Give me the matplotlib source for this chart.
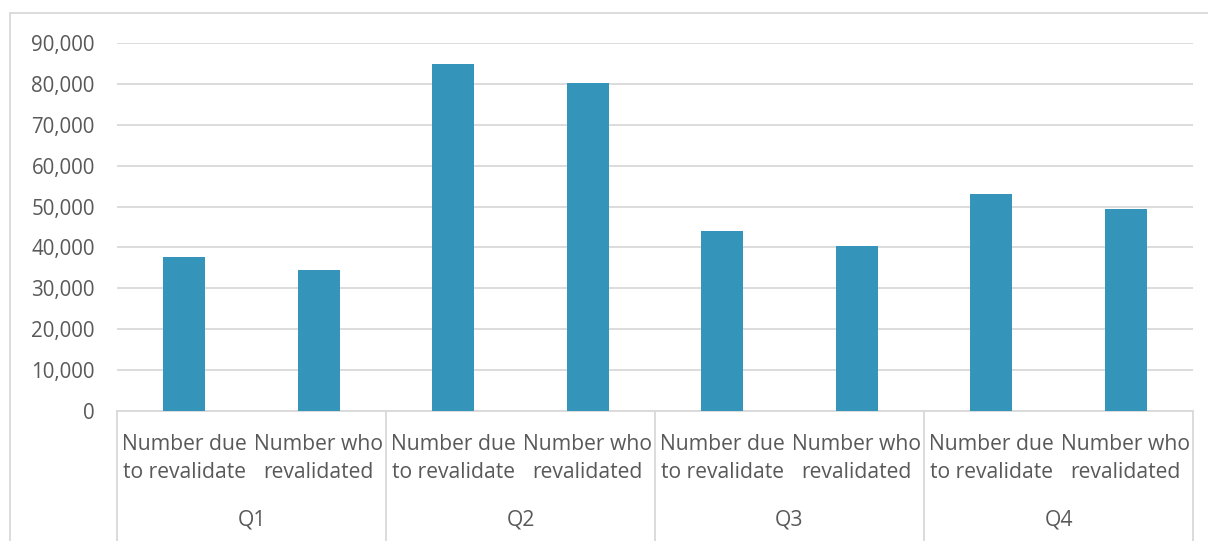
import matplotlib
matplotlib.use("Agg")
import matplotlib.pyplot as plt
from matplotlib.patches import Rectangle
from matplotlib.lines import Line2D
from matplotlib.ticker import FuncFormatter

# data
quarters = ["Q1", "Q2", "Q3", "Q4"]
measures = ["Number due\nto revalidate", "Number who\nrevalidated"]
due = [37600, 84800, 43900, 53000]
revalidated = [34400, 80100, 40300, 49300]

BAR = "#3494ba"
GRID = "#d9d9d9"
TXT = "#595959"

plt.rcParams["font.family"] = ["Open Sans", "DejaVu Sans"]

W, H = 1208, 541
fig = plt.figure(figsize=(W / 100, H / 100), dpi=100)

# axes box in pixels: left 117, right 1193, top 43, bottom 411
ax = fig.add_axes([117 / W, 1 - 411 / H, (1193 - 117) / W, (411 - 43) / H])

values = []
for d, r in zip(due, revalidated):
    values += [d, r]
xs = list(range(len(values)))
ax.bar(xs, values, width=0.31, color=BAR, zorder=3)

ax.set_xlim(-0.5, len(values) - 0.5)
ax.set_ylim(0, 90000)
ax.set_yticks(range(0, 90001, 10000))
ax.yaxis.set_major_formatter(FuncFormatter(lambda v, p: f"{int(v):,}"))
ax.tick_params(axis="y", length=0, pad=16, labelsize=14.8, labelcolor=TXT)
ax.set_xticks([])
ax.grid(axis="y", color=GRID, linewidth=1.3, zorder=0)
for s in ["top", "right", "left"]:
    ax.spines[s].set_visible(False)
ax.spines["bottom"].set_color(GRID)
ax.spines["bottom"].set_linewidth(1.3)

# category labels (two levels)
tr = ax.get_xaxis_transform()
ah = 411 - 43
fs = 15.2
for i, x in enumerate(xs):
    l1, l2 = measures[i % 2].split("\n")
    ax.text(x, (411 - 444) / ah, l1, transform=tr, ha="center", va="center",
            fontsize=fs, color=TXT)
    ax.text(x, (411 - 473) / ah, l2, transform=tr, ha="center", va="center",
            fontsize=fs, color=TXT)
for q, name in enumerate(quarters):
    ax.text(2 * q + 0.5, (411 - 520) / ah, name, transform=tr, ha="center",
            va="center", fontsize=fs, color=TXT)
for k in range(len(quarters) + 1):
    ax.add_line(Line2D([2 * k - 0.5] * 2, [0, -411 / ah + (411 - 541) / ah],
                       transform=tr, color=GRID, linewidth=1.3, clip_on=False))

# outer chart frame
fig.patches.append(Rectangle((10 / W, -0.05), 1.1, 1 - 13 / H + 0.05,
                             transform=fig.transFigure, fill=False,
                             edgecolor=GRID, linewidth=1.3))

fig.savefig("out.png", dpi=100)
